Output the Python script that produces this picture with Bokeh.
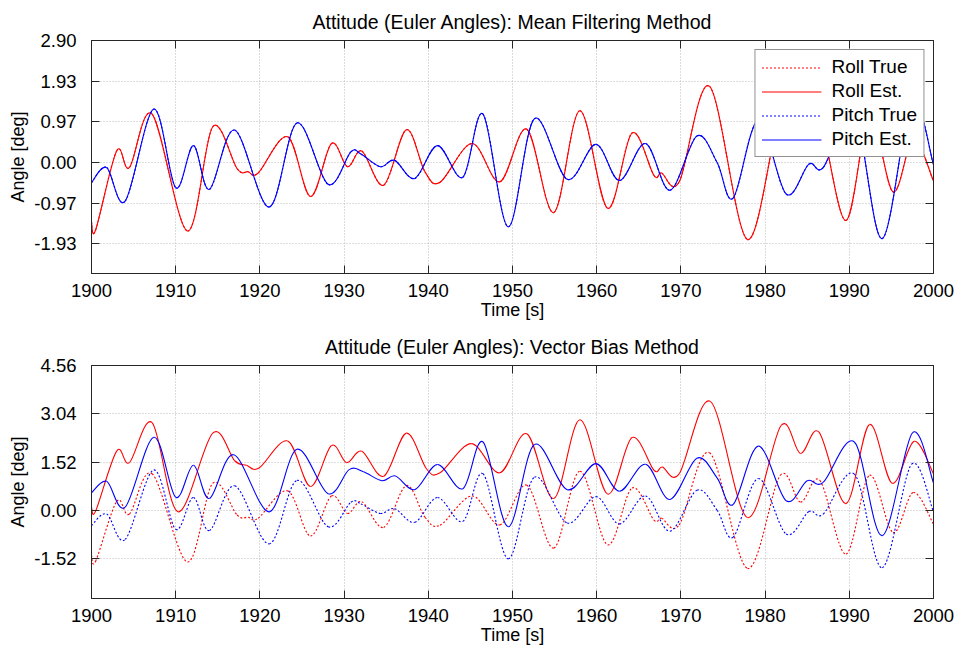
from bokeh.plotting import figure
from bokeh.models import (ColumnDataSource, LinearAxis, FixedTicker,
                          PrintfTickFormatter, Legend, LegendItem, Range1d)
from bokeh.layouts import column
from bokeh.embed import file_html
from bokeh.resources import INLINE

# ---------------- data ----------------
x_ticks = [1900, 1910, 1920, 1930, 1940, 1950, 1960, 1970, 1980, 1990, 2000]
y_ticks_top = [-1.93, -0.97, 0.00, 0.97, 1.93, 2.90]
y_ticks_bottom = [-1.52, 0.00, 1.52, 3.04, 4.56]

# true roll / pitch (knots: extrema and shape points)
roll_true_t = [1900.0, 1900.5, 1903.0, 1904.5, 1907.2, 1911.4, 1914.4, 1917.3, 1918.6, 1919.8,
               1923.3, 1926.0, 1928.5, 1930.4, 1932.1, 1934.7, 1937.4, 1939.6, 1941.4, 1945.2,
               1948.5, 1951.7, 1954.9, 1958.0, 1961.3, 1964.2, 1966.8, 1967.7, 1969.8, 1973.4,
               1977.9, 1981.8, 1984.2, 1986.5, 1989.6, 1992.4, 1995.2, 1997.6, 2000.0]
roll_true_v = [-1.41, -1.60, 0.28, -0.12, 1.15, -1.63, 0.85, -0.15, -0.22, -0.25,
               0.61, -0.81, 0.45, -0.10, 0.27, -0.54, 0.78, -0.22, -0.47, 0.45,
               -0.46, 0.79, -1.19, 1.23, -1.09, 0.70, -0.31, -0.25, -0.46, 1.81,
               -1.83, 1.10, 0.26, 0.94, -1.38, 1.10, -0.70, 0.56, -0.44]

pitch_true_t = [1900.0, 1901.8, 1904.0, 1907.4, 1910.0, 1912.1, 1914.0, 1917.0, 1921.1, 1924.4,
                1928.1, 1930.8, 1932.0, 1934.3, 1936.0, 1938.4, 1941.1, 1944.1, 1946.5, 1949.5,
                1952.6, 1956.5, 1959.9, 1962.7, 1965.8, 1968.7, 1971.9, 1974.3, 1976.2, 1979.2,
                1982.5, 1985.2, 1986.9, 1990.6, 1993.9, 1997.4, 2000.0]
pitch_true_v = [-0.48, -0.12, -0.92, 1.27, -0.60, 0.40, -0.64, 0.77, -1.06, 0.94,
                -0.52, 0.25, 0.20, -0.10, 0.05, -0.38, 0.40, -0.35, 1.15, -1.53,
                1.04, -0.40, 0.43, -0.43, 0.45, -0.66, 0.63, 0.00, -0.85, 1.00,
                -0.75, -0.04, -0.12, 1.14, -1.81, 1.45, -0.05]

# mean filtering estimates coincide with the true values in the picture
roll_mean_t = list(roll_true_t)
roll_mean_v = list(roll_true_v)
pitch_mean_t = list(pitch_true_t)
pitch_mean_v = list(pitch_true_v)

# vector bias estimates
roll_bias_t = [1900.0, 1900.5, 1903.0, 1904.5, 1907.2, 1910.3, 1914.4, 1917.0, 1918.4, 1919.9,
               1923.3, 1926.0, 1928.5, 1930.3, 1932.1, 1934.7, 1937.4, 1939.8, 1941.4, 1945.1,
               1948.5, 1951.7, 1954.9, 1958.0, 1961.3, 1964.2, 1966.8, 1967.8, 1969.8, 1973.5,
               1977.9, 1981.9, 1984.2, 1986.4, 1989.6, 1992.4, 1995.1, 1997.7, 2000.0]
roll_bias_v = [0.10, -0.02, 1.87, 1.50, 2.76, -0.05, 2.43, 1.56, 1.42, 1.33,
               2.18, 0.75, 2.04, 1.50, 1.86, 1.07, 2.43, 1.30, 1.18, 2.10,
               1.18, 2.41, 0.37, 2.85, 0.51, 2.29, 1.26, 1.36, 1.15, 3.43,
               -0.23, 2.67, 1.79, 2.46, 0.21, 2.70, 0.85, 2.17, 1.15]

pitch_bias_t = [1900.0, 1901.8, 1904.0, 1907.4, 1910.0, 1912.1, 1914.0, 1916.9, 1921.1, 1924.4,
                1928.1, 1930.6, 1932.3, 1934.5, 1936.1, 1938.4, 1941.1, 1944.1, 1946.5, 1949.5,
                1952.6, 1956.5, 1959.9, 1962.7, 1965.8, 1968.7, 1971.9, 1974.3, 1976.2, 1979.2,
                1982.5, 1985.0, 1986.9, 1990.6, 1993.9, 1997.5, 2000.0]
pitch_bias_v = [0.55, 0.91, 0.10, 2.30, 0.41, 1.42, 0.37, 1.75, -0.05, 1.92,
                0.52, 1.28, 1.21, 0.93, 1.08, 0.65, 1.44, 0.68, 2.15, -0.52,
                2.07, 0.65, 1.47, 0.60, 1.45, 0.34, 1.64, 1.02, 0.18, 2.02,
                0.30, 0.93, 0.88, 2.15, -0.80, 2.44, 0.86]

labels = ["Roll True", "Roll Est.", "Pitch True", "Pitch Est."]

FONT = "Liberation Sans"
FRAME = "#262626"
RED = "#ff0000"
BLUE = "#0000ff"
DOT = "2 2"


def style_axis(ax, ticker, fmt=None, show_labels=True, standoff=8):
    ax.ticker = FixedTicker(ticks=ticker)
    if fmt is not None:
        ax.formatter = PrintfTickFormatter(format=fmt)
    ax.major_tick_in = 8
    ax.major_tick_out = 0
    ax.minor_tick_line_color = None
    ax.axis_line_color = FRAME
    ax.major_tick_line_color = FRAME
    ax.major_label_text_font = FONT
    if show_labels:
        ax.major_label_text_color = "#000000"
        ax.major_label_text_font_size = "18.5px"
        ax.major_label_standoff = standoff
    else:
        # tick marks only (box axes, as in the reference)
        ax.major_label_text_color = None
        ax.major_label_text_font_size = "1px"
        ax.major_label_standoff = 0


def make_fig(title, y0, y1, yticks):
    p = figure(width=956, height=325, output_backend="svg", toolbar_location=None,
               x_range=Range1d(1900, 2000), y_range=Range1d(y0, y1),
               min_border_left=91, min_border_right=23, min_border_top=40,
               min_border_bottom=52, title=title)
    p.title.text_font = FONT
    p.title.text_font_size = "19.5px"
    p.title.text_font_style = "normal"
    p.title.text_color = "#000000"
    p.title.align = "center"
    p.title.standoff = 16
    p.outline_line_color = FRAME
    p.outline_line_width = 1
    p.background_fill_color = "white"
    p.border_fill_color = "white"

    style_axis(p.xaxis[0], x_ticks, standoff=10)
    style_axis(p.yaxis[0], yticks, "%.2f", standoff=15)
    p.xaxis.axis_label = "Time [s]"
    p.yaxis.axis_label = "Angle [deg]"
    for ax in (p.xaxis[0], p.yaxis[0]):
        ax.axis_label_text_font = FONT
        ax.axis_label_text_font_size = "18px"
        ax.axis_label_text_font_style = "normal"
        ax.axis_label_text_color = "#000000"
    p.xaxis.axis_label_standoff = 0
    p.yaxis.axis_label_standoff = 3

    top_ax = LinearAxis()
    style_axis(top_ax, x_ticks, show_labels=False)
    p.add_layout(top_ax, "above")
    right_ax = LinearAxis()
    style_axis(right_ax, yticks, show_labels=False)
    p.add_layout(right_ax, "right")

    p.xgrid.grid_line_color = "#bbbbbb"
    p.ygrid.grid_line_color = "#bbbbbb"
    p.xgrid.grid_line_dash = "1 2"
    p.ygrid.grid_line_dash = "1 2"
    return p


def curve(p, t, v, color, dash):
    """Smooth curve through the read knots, drawn with Bokeh's bezier glyph
    (Catmull-Rom tangents give the control handles)."""
    n = len(t)
    seg = dict(x0=[], y0=[], x1=[], y1=[], cx0=[], cy0=[], cx1=[], cy1=[])
    for i in range(n - 1):
        a = max(i - 1, 0)
        d = min(i + 2, n - 1)
        seg["x0"].append(t[i]); seg["y0"].append(v[i])
        seg["x1"].append(t[i + 1]); seg["y1"].append(v[i + 1])
        seg["cx0"].append(t[i] + (t[i + 1] - t[a]) / 6.0)
        seg["cy0"].append(v[i] + (v[i + 1] - v[a]) / 6.0)
        seg["cx1"].append(t[i + 1] - (t[d] - t[i]) / 6.0)
        seg["cy1"].append(v[i + 1] - (v[d] - v[i]) / 6.0)
    src = ColumnDataSource(seg)
    return p.bezier(x0="x0", y0="y0", x1="x1", y1="y1", cx0="cx0", cy0="cy0",
                    cx1="cx1", cy1="cy1", source=src, line_color=color,
                    line_width=1.1, line_dash=dash)


def legend_proxy(p, color, dash):
    # a line renderer with a single missing point: draws nothing in the frame,
    # only gives the legend its line sample
    nan = float("nan")
    return p.line(x=[nan], y=[nan], line_color=color, line_width=1.1, line_dash=dash)


# ---- top: mean filtering ----
p1 = make_fig("Attitude (Euler Angles): Mean Filtering Method", -2.64, 2.90, y_ticks_top)
curve(p1, roll_true_t, roll_true_v, RED, DOT)
curve(p1, roll_mean_t, roll_mean_v, RED, "solid")
curve(p1, pitch_true_t, pitch_true_v, BLUE, DOT)
curve(p1, pitch_mean_t, pitch_mean_v, BLUE, "solid")

proxies = [legend_proxy(p1, RED, DOT), legend_proxy(p1, RED, "solid"),
           legend_proxy(p1, BLUE, DOT), legend_proxy(p1, BLUE, "solid")]
legend = Legend(items=[LegendItem(label=lab, renderers=[r]) for lab, r in zip(labels, proxies)],
                location="top_right")
legend.margin = 9
legend.padding = 6
legend.spacing = 2
legend.label_height = 21
legend.glyph_height = 21
legend.glyph_width = 60
legend.label_standoff = 10
legend.label_text_font = FONT
legend.label_text_font_size = "19px"
legend.label_text_color = "#000000"
legend.border_line_color = FRAME
legend.border_line_width = 1
legend.background_fill_color = "white"
legend.background_fill_alpha = 1.0
p1.add_layout(legend)

# ---- bottom: vector bias ----
p2 = make_fig("Attitude (Euler Angles): Vector Bias Method", -2.78, 4.56, y_ticks_bottom)
curve(p2, roll_true_t, roll_true_v, RED, DOT)
curve(p2, roll_bias_t, roll_bias_v, RED, "solid")
curve(p2, pitch_true_t, pitch_true_v, BLUE, DOT)
curve(p2, pitch_bias_t, pitch_bias_v, BLUE, "solid")

layout = column(p1, p2, spacing=0)
open("out.html", "w").write(file_html(layout, INLINE))
